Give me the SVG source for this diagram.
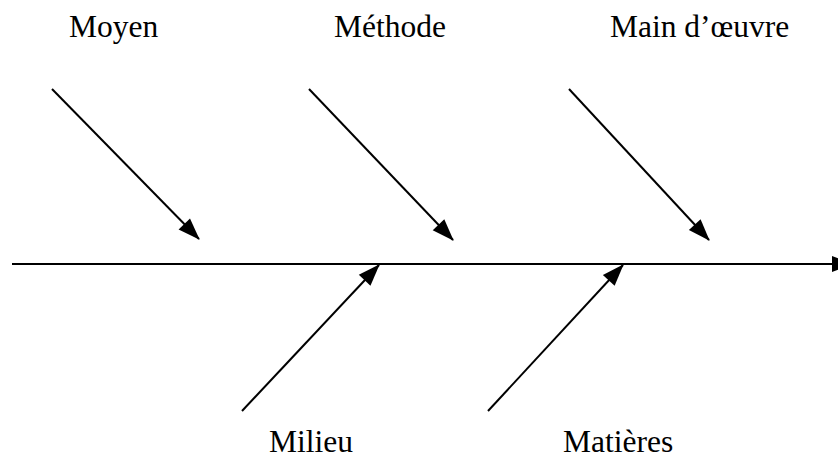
<svg xmlns="http://www.w3.org/2000/svg" width="838" height="461" viewBox="0 0 838 461">
<style>
.lbl{font-family:"Liberation Serif","Times New Roman",serif;font-size:31.5px;fill:#000}
.ln{stroke:#000;stroke-width:2;fill:none;marker-end:url(#ah)}
</style>
<defs>
<marker id="ah" markerUnits="userSpaceOnUse" markerWidth="22" markerHeight="16" refX="21" refY="8" orient="auto" overflow="visible">
<path d="M0,0 L22,8 L0,16 z" fill="#000"/>
</marker>
</defs>
<rect width="838" height="461" fill="#fff"/>
<g id="connectors">
<line class="ln" x1="12" y1="264" x2="853" y2="264"/>
<line class="ln" x1="52" y1="89" x2="199" y2="239"/>
<line class="ln" x1="309" y1="89" x2="453" y2="240"/>
<line class="ln" x1="569" y1="89" x2="709" y2="240"/>
<line class="ln" x1="242" y1="411" x2="379" y2="265"/>
<line class="ln" x1="488" y1="411" x2="623" y2="265"/>
</g>
<g id="moyen"><text class="lbl" x="69" y="37">Moyen</text></g>
<g id="methode"><text class="lbl" x="334" y="37">Méthode</text></g>
<g id="main-oeuvre"><text class="lbl" x="610" y="37">Main d’œuvre</text></g>
<g id="milieu"><text class="lbl" x="269" y="452">Milieu</text></g>
<g id="matieres"><text class="lbl" x="563" y="452">Matières</text></g>
</svg>
